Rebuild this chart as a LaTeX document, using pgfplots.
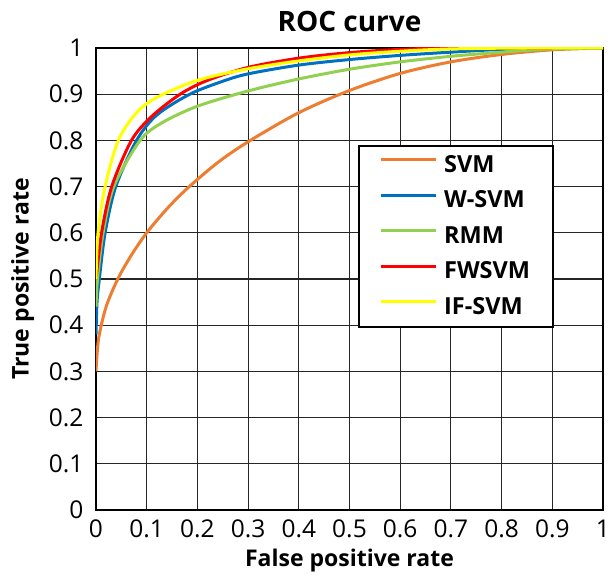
\documentclass[border=0pt]{standalone}
\usepackage{fontspec}
\setmainfont{Open Sans}
\usepackage{pgfplots}
\pgfplotsset{compat=1.18}
\definecolor{cSVM}{RGB}{237,125,49}
\definecolor{cWSVM}{RGB}{0,112,192}
\definecolor{cRMM}{RGB}{146,208,80}
\definecolor{cFW}{RGB}{255,0,0}
\definecolor{cIF}{RGB}{255,255,0}
\begin{document}
\begin{tikzpicture}
\begin{axis}[
  name=ax,
  scale only axis, width=507pt, height=462pt,
  xmin=0, xmax=1, ymin=0, ymax=1,
  xtick={0,0.1,0.2,0.3,0.4,0.5,0.6,0.7,0.8,0.9,1},
  ytick={0,0.1,0.2,0.3,0.4,0.5,0.6,0.7,0.8,0.9,1},
  grid=major, major grid style={black!85, line width=1.1pt},
  axis line style={line width=2.5pt},
  tick style={draw=none},
  /pgf/number format/assume math mode=true,
  ticklabel style={font=\fontsize{24.5}{28}\selectfont},
  xticklabel style={yshift=-6pt},
  yticklabel style={xshift=-9pt},
  title={\textbf{ROC curve}},
  title style={font=\fontsize{28}{32}\selectfont, yshift=7pt},
  xlabel={\textbf{False positive rate}},
  ylabel={\textbf{True positive rate}},
  label style={font=\fontsize{23}{27}\selectfont},
  xlabel style={yshift=-5pt},
  ylabel style={yshift=8pt},
  legend style={at={(0.517,0.79)}, anchor=north west, draw=black, line width=2pt,
    font=\fontsize{23.5}{27}\selectfont, inner xsep=20pt, inner ysep=7pt,
    row sep=10.6pt, nodes={inner sep=3pt, text height=16pt, text depth=3pt}},
  legend cell align=left,
  legend image code/.code={\draw[#1, line width=3pt] (0pt,6pt) -- (55pt,6pt); \path (59pt,6pt);},
  every axis plot/.append style={line width=3pt, smooth, tension=0.5},
]
\addplot[cSVM] coordinates {
(0,0.30) (0.005,0.37) (0.02,0.44) (0.043,0.50) (0.07,0.552) (0.10,0.60)
(0.14,0.652) (0.18,0.696) (0.24,0.752) (0.30,0.797) (0.40,0.86) (0.50,0.908)
(0.60,0.945) (0.70,0.97) (0.80,0.986) (0.90,0.996) (1.00,1.00)};
\addlegendentry{\textbf{SVM}}
\addplot[cWSVM] coordinates {
(0,0.38) (0.002,0.45) (0.0066,0.50) (0.018,0.60) (0.039,0.70) (0.08,0.80)
(0.12,0.855) (0.185,0.90) (0.25,0.928) (0.30,0.944) (0.40,0.963) (0.50,0.975)
(0.60,0.984) (0.70,0.991) (0.80,0.997) (0.90,1.0) (1.0,1.0)};
\addlegendentry{\textbf{W-SVM}}
\addplot[cRMM] coordinates {
(0,0.44) (0.003,0.50) (0.014,0.60) (0.035,0.70) (0.087,0.80) (0.13,0.838)
(0.2,0.874) (0.3,0.907) (0.4,0.933) (0.5,0.954) (0.6,0.97) (0.7,0.982)
(0.8,0.991) (0.9,0.998) (1.0,1.0)};
\addlegendentry{\textbf{RMM}}
\addplot[cFW] coordinates {
(0,0.50) (0.011,0.60) (0.031,0.70) (0.07,0.80) (0.11,0.852) (0.166,0.90)
(0.22,0.93) (0.30,0.958) (0.40,0.978) (0.50,0.99) (0.60,0.997) (0.70,1.0)
(0.9,1.0)};
\addlegendentry{\textbf{FWSVM}}
\addplot[cIF] coordinates {
(0,0.50) (0.004,0.60) (0.018,0.70) (0.044,0.80) (0.08,0.86) (0.12,0.893)
(0.2,0.93) (0.30,0.955) (0.40,0.972) (0.50,0.985) (0.60,0.993) (0.70,0.998)
(0.85,1.0) (1.0,1.0)};
\addlegendentry{\textbf{IF-SVM}}
\end{axis}
\pgfresetboundingbox
\path[use as bounding box] ([xshift=-96pt,yshift=-65pt]ax.south west) rectangle ([xshift=10pt,yshift=48pt]ax.north east);
\end{tikzpicture}
\end{document}
